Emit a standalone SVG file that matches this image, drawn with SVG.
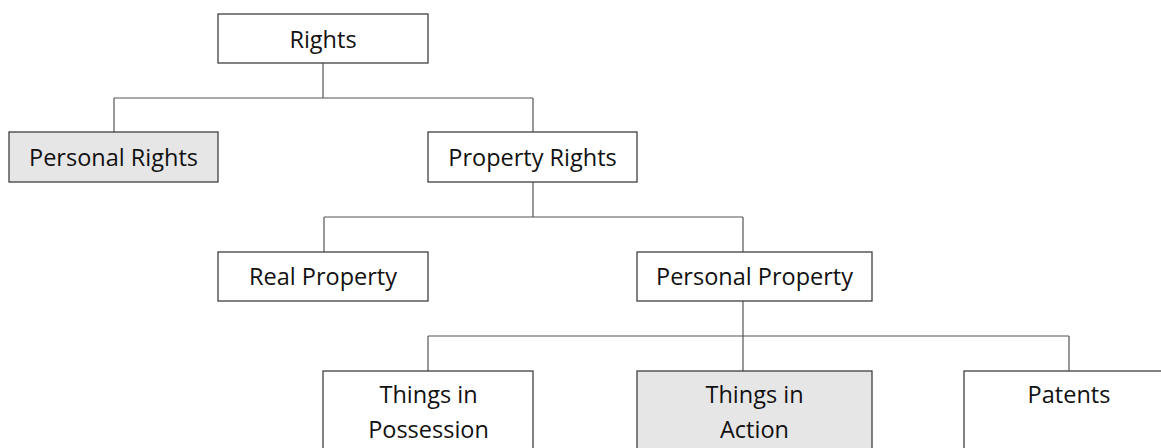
<svg xmlns="http://www.w3.org/2000/svg" width="1161" height="448" viewBox="0 0 1161 448">
  <style>
    .box { fill: #ffffff; stroke: #404040; stroke-width: 1.3; }
    .box.shaded { fill: #e7e6e6; }
    .label { font-family: "Open Sans", "Liberation Sans", sans-serif; font-size: 23.5px; fill: #111111; text-anchor: middle; }
    .link { fill: none; stroke: #555555; stroke-width: 1.2; }
  </style>
  <rect width="1161" height="448" fill="#ffffff"/>

  <!-- connectors -->
  <g id="connectors">
    <path class="link" d="M323 63 V98 M114 98 H533 M114 98 V132 M533 98 V132"/>
    <path class="link" d="M533 182 V217 M324 217 H743 M324 217 V252 M743 217 V252"/>
    <path class="link" d="M743 301 V336 M428 336 H1069 M428 336 V371 M743 336 V371 M1069 336 V371"/>
  </g>

  <g id="rights">
    <rect class="box" x="218" y="14" width="210" height="49"/>
    <text class="label" x="323" y="48">Rights</text>
  </g>
  <g id="personal-rights">
    <rect class="box shaded" x="9" y="132" width="209" height="50"/>
    <text class="label" x="113.5" y="166">Personal Rights</text>
  </g>
  <g id="property-rights">
    <rect class="box" x="428" y="132" width="209" height="50"/>
    <text class="label" x="532.5" y="166">Property Rights</text>
  </g>
  <g id="real-property">
    <rect class="box" x="218" y="252" width="210" height="49"/>
    <text class="label" x="323" y="285">Real Property</text>
  </g>
  <g id="personal-property">
    <rect class="box" x="637" y="252" width="235" height="49"/>
    <text class="label" x="754.5" y="285">Personal Property</text>
  </g>
  <g id="things-in-possession">
    <rect class="box" x="323" y="371" width="210" height="90"/>
    <text class="label" x="428.5" y="403">Things in</text>
    <text class="label" x="428.5" y="438">Possession</text>
  </g>
  <g id="things-in-action">
    <rect class="box shaded" x="637" y="371" width="235" height="90"/>
    <text class="label" x="754.5" y="403">Things in</text>
    <text class="label" x="754.5" y="438">Action</text>
  </g>
  <g id="patents">
    <rect class="box" x="964" y="371" width="210" height="90"/>
    <text class="label" x="1069" y="403">Patents</text>
  </g>
</svg>
